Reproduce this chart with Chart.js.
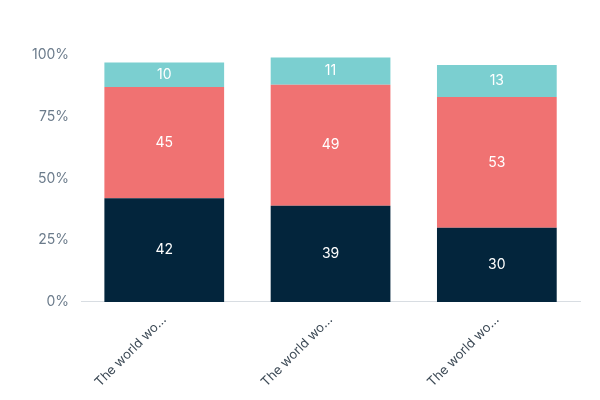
<!DOCTYPE html>
<html>
<head>
<meta charset="utf-8">
<script src="https://cdn.jsdelivr.net/npm/chart.js@4"></script>
<style>
  body { margin: 0; background: #fff; }
  #wrap { width: 600px; height: 400px; }
</style>
</head>
<body>
<div id="wrap"><canvas id="chart"></canvas></div>
<script>
var categories = ['The world wo\u2026', 'The world wo\u2026', 'The world wo\u2026'];
var bottomValues = [42, 39, 30];
var middleValues = [45, 49, 53];
var topValues = [10, 11, 13];
var yTicks = [0, 25, 50, 75, 100];

// draw the value inside each segment
var segmentLabels = {
    id: 'segmentLabels',
    afterDatasetsDraw: function(chart) {
        var ctx = chart.ctx;
        ctx.save();
        ctx.fillStyle = '#ffffff';
        ctx.font = '14px Inter, "Noto Sans", sans-serif';
        ctx.textAlign = 'center';
        ctx.textBaseline = 'middle';
        chart.data.datasets.forEach(function(ds, i) {
            chart.getDatasetMeta(i).data.forEach(function(bar, j) {
                var mid = (bar.y + bar.base) / 2;
                ctx.fillText(ds.data[j], bar.x, mid);
            });
        });
        ctx.restore();
    }
};

new Chart(document.getElementById('chart'), {
    type: 'bar',
    data: {
        labels: categories,
        datasets: [
            { data: bottomValues, backgroundColor: '#03253c' },
            { data: middleValues, backgroundColor: '#f07272' },
            { data: topValues, backgroundColor: '#7bcfd0' }
        ]
    },
    options: {
        responsive: true,
        maintainAspectRatio: false,
        animation: false,
        layout: { padding: { top: 55, right: 20, left: 20, bottom: 0 } },
        plugins: {
            legend: { display: false },
            tooltip: { enabled: false }
        },
        scales: {
            x: {
                stacked: true,
                categoryPercentage: 0.67,
                barPercentage: 1,
                grid: { display: false, drawTicks: false },
                border: { color: '#d8dde2' },
                ticks: {
                    minRotation: 45,
                    maxRotation: 45,
                    color: '#3d4a56',
                    padding: 10,
                    font: { family: 'Inter, "Noto Sans", sans-serif', size: 13 }
                }
            },
            y: {
                stacked: true,
                min: 0,
                max: 100,
                afterBuildTicks: function(axis) {
                    axis.ticks = yTicks.map(function(v) { return { value: v }; });
                },
                grid: { display: false, drawTicks: false },
                border: { display: false },
                ticks: {
                    color: '#6b7b8b',
                    padding: 12,
                    font: { family: 'Inter, "Noto Sans", sans-serif', size: 14 },
                    callback: function(v) { return v + '%'; }
                }
            }
        }
    },
    plugins: [segmentLabels]
});
</script>
</body>
</html>
